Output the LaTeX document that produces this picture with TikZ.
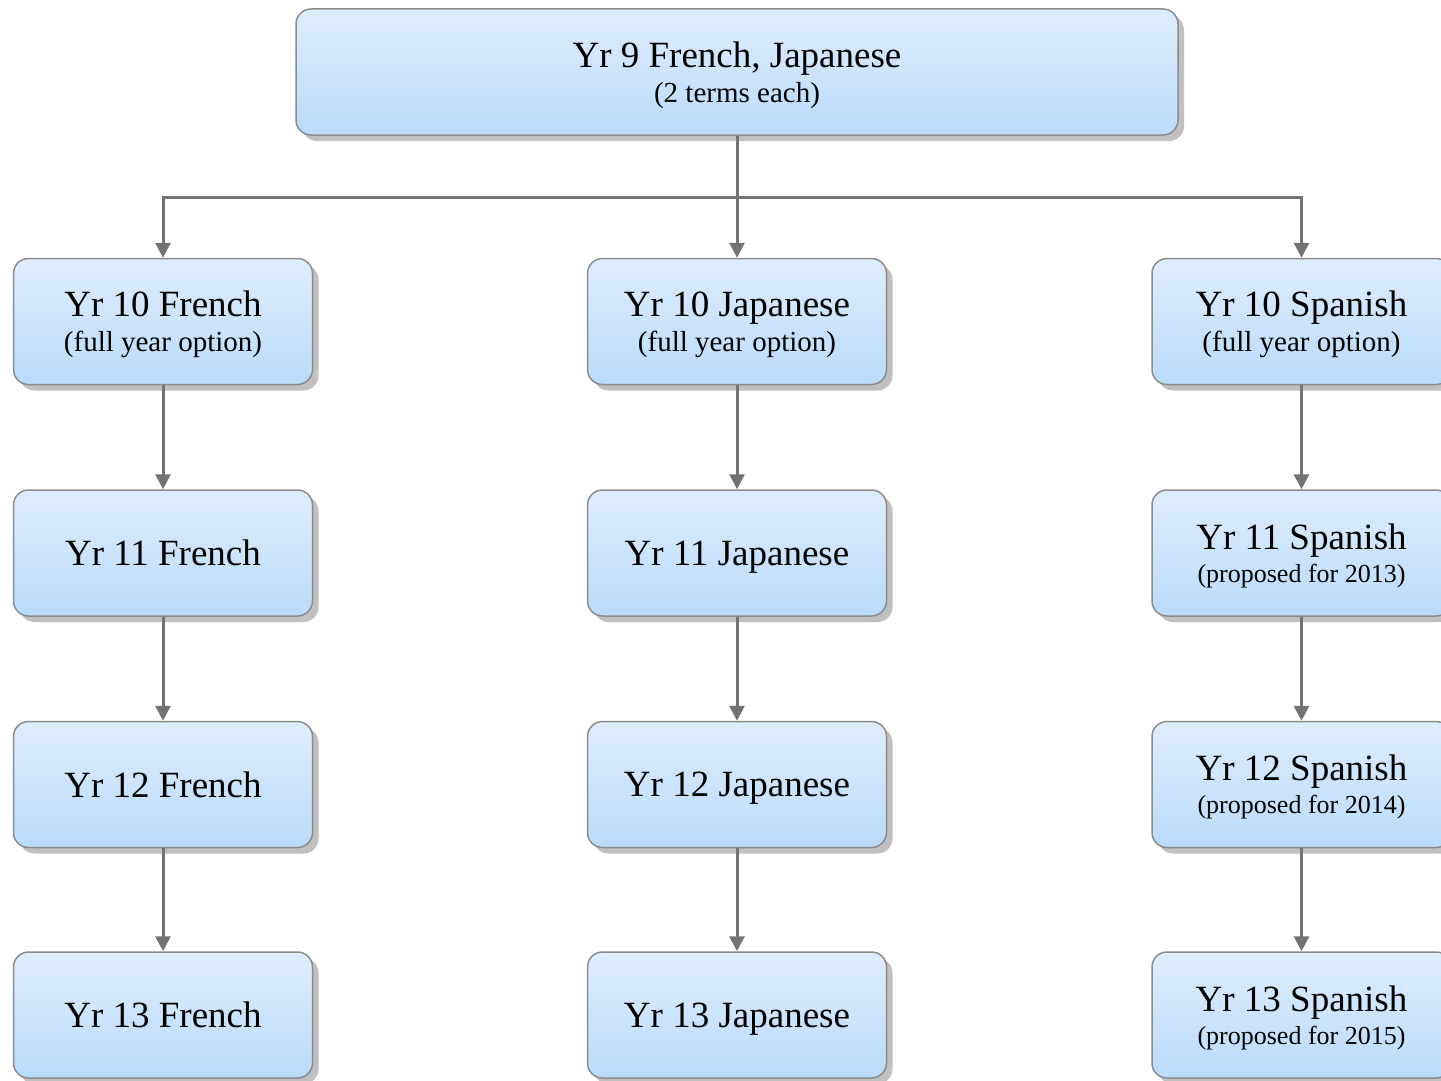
\documentclass[tikz,border=0pt]{standalone}
\usepackage{fontspec}
\setmainfont{Liberation Serif}
\usetikzlibrary{arrows.meta,shadows}

\definecolor{boxtop}{RGB}{222,237,253}
\definecolor{boxbottom}{RGB}{185,219,251}
\definecolor{boxline}{RGB}{140,140,140}
\definecolor{linkline}{RGB}{115,115,115}
\definecolor{shadowgray}{RGB}{192,192,192}

\newcommand{\subline}[1]{{\fontsize{29}{35}\selectfont #1}}
\newcommand{\propline}[1]{{\fontsize{26}{33}\selectfont #1}}

\begin{document}
\begin{tikzpicture}[x=1pt,y=-1pt,
  course/.style={draw=boxline, line width=1.5pt, rounded corners=15pt, top color=boxtop, bottom color=boxbottom,
    minimum width=299pt, minimum height=126pt, inner sep=0pt, align=center, text depth=0pt,
    font=\fontsize{37}{35}\selectfont,
    drop shadow={shadow xshift=6pt, shadow yshift=-6pt, fill=shadowgray, opacity=1}},
  link/.style={draw=linkline, line width=3pt, -{Triangle[length=15pt,width=15pt]}}]

\useasboundingbox (0,0) rectangle (1441,1081);
\clip (0,0) rectangle (1441,1081);

\node[course, minimum width=882pt] (yr9) at (737,72) {Yr 9 French, Japanese\\\subline{(2 terms each)}};

\node[course] (fr10) at (163,321.5) {Yr 10 French\\\subline{(full year option)}};
\node[course] (fr11) at (163,553) {Yr 11 French};
\node[course] (fr12) at (163,784.5) {Yr 12 French};
\node[course] (fr13) at (163,1015) {Yr 13 French};

\node[course] (jp10) at (737,321.5) {Yr 10 Japanese\\\subline{(full year option)}};
\node[course] (jp11) at (737,553) {Yr 11 Japanese};
\node[course] (jp12) at (737,784.5) {Yr 12 Japanese};
\node[course] (jp13) at (737,1015) {Yr 13 Japanese};

\node[course] (sp10) at (1301.5,321.5) {Yr 10 Spanish\\\subline{(full year option)}};
\node[course] (sp11) at (1301.5,553) {Yr 11 Spanish\\[-2pt]\propline{(proposed for 2013)}};
\node[course] (sp12) at (1301.5,784.5) {Yr 12 Spanish\\[-2pt]\propline{(proposed for 2014)}};
\node[course] (sp13) at (1301.5,1015) {Yr 13 Spanish\\[-2pt]\propline{(proposed for 2015)}};

\coordinate (fork) at (737,197);

\draw[link] (yr9) -- (jp10);
\draw[link] (fork) -| (fr10);
\draw[link] (fork) -| (sp10);

\draw[link] (fr10) -- (fr11);
\draw[link] (fr11) -- (fr12);
\draw[link] (fr12) -- (fr13);

\draw[link] (jp10) -- (jp11);
\draw[link] (jp11) -- (jp12);
\draw[link] (jp12) -- (jp13);

\draw[link] (sp10) -- (sp11);
\draw[link] (sp11) -- (sp12);
\draw[link] (sp12) -- (sp13);

\end{tikzpicture}
\end{document}
